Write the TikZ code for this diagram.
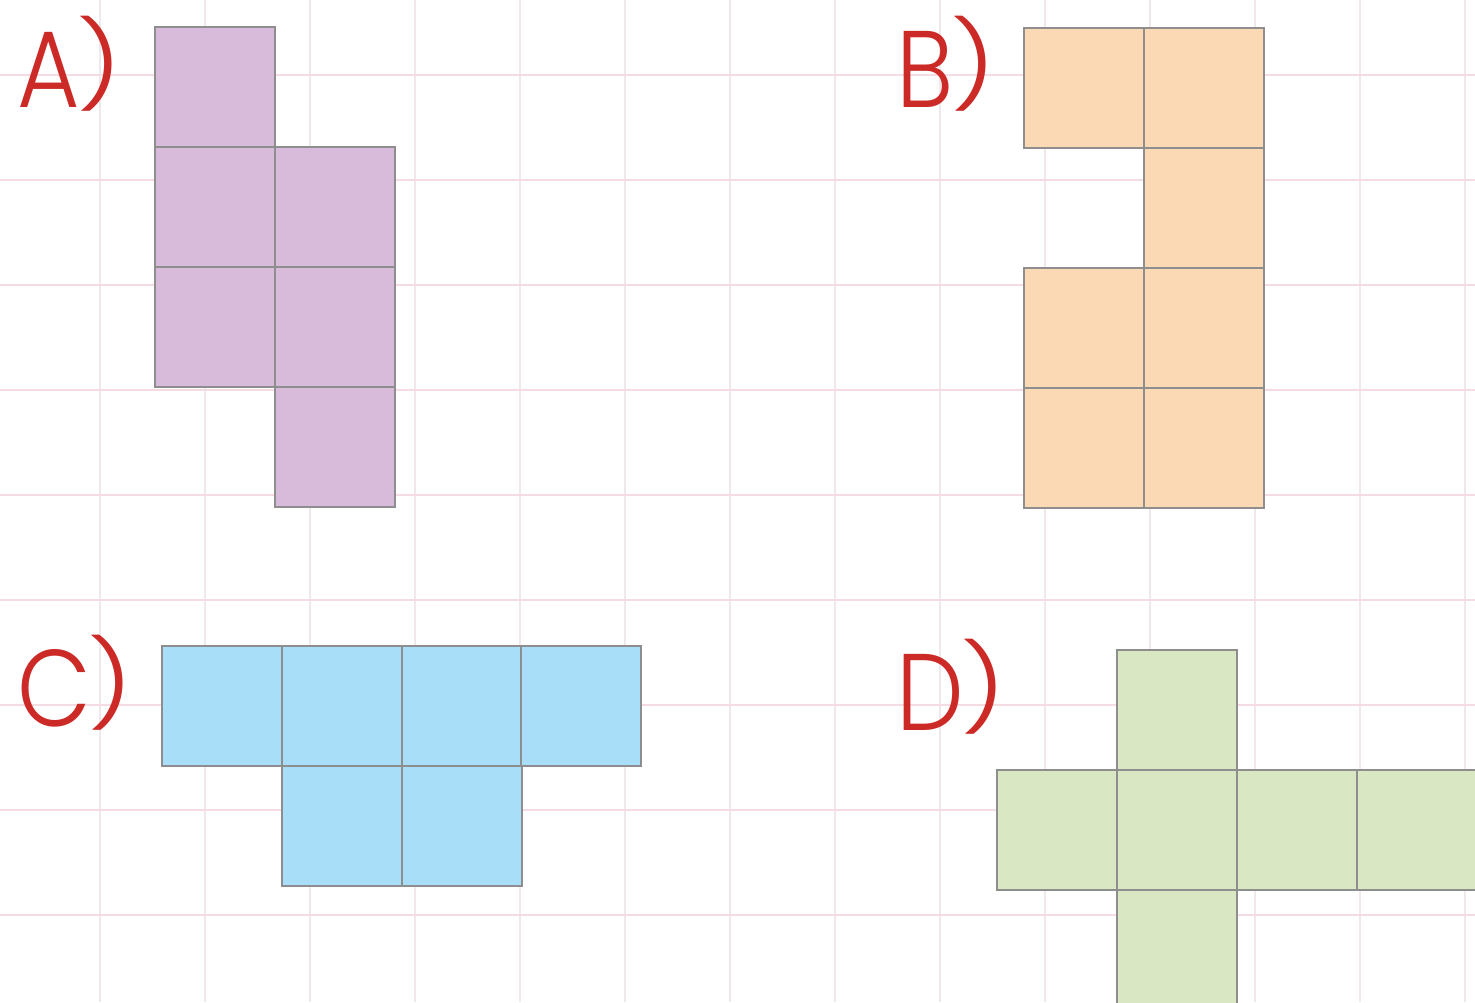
\documentclass[tikz,border=0pt]{standalone}
\usepackage{fontspec}
\usepackage{graphicx}
\usepackage{xcolor}
\usepackage{tikz}
\usetikzlibrary{positioning}
\newfontfamily\netfont{Poppins}[UprightFont=* Light]
\newcommand{\netmark}[1]{\scalebox{0.88}[1]{#1}\hspace{-2pt}\raisebox{6.5pt}{\scalebox{1}[0.78]{)}}}

\definecolor{gridh}{HTML}{F5DCE3}
\definecolor{gridv}{HTML}{F0E8EC}
\definecolor{cellline}{HTML}{8E8E8E}
\definecolor{labelred}{HTML}{CC2A26}
\definecolor{netA}{HTML}{D8BADB}
\definecolor{netB}{HTML}{FCD9B5}
\definecolor{netC}{HTML}{A8DEF8}
\definecolor{netD}{HTML}{D9E8C3}

\tikzset{
  cell/.style={draw=cellline, line width=1pt, minimum size=2.4cm, inner sep=0pt, outer sep=0pt},
  netlabel/.style={text=labelred, font=\netfont\fontsize{62}{68}\selectfont, inner sep=0pt, anchor=base west},
}

\begin{document}
\begin{tikzpicture}[x=0.02cm, y=-0.02cm]
\useasboundingbox (0,0) rectangle (1475,1002);
\fill[white] (0,0) rectangle (1475,1002);
% background grid
\foreach \gx in {100,205,...,1465}
  \draw[gridv, line width=1pt] (\gx,0) -- (\gx,1002);
\foreach \gy in {75,180,...,915}
  \draw[gridh, line width=1pt] (0,\gy) -- (1475,\gy);

% net A
\foreach \nm/\cx/\cy in {a1/215/87, a2/215/207, a3/335/207, a4/215/327, a5/335/327, a6/335/447}
  \node[cell, fill=netA] (\nm) at (\cx,\cy) {};
\node[netlabel] (labA) at (17,107) {\netmark{A}};

% net B
\foreach \nm/\cx/\cy in {b1/1084/88, b2/1204/88, b3/1204/208, b4/1084/328, b5/1204/328, b6/1084/448, b7/1204/448}
  \node[cell, fill=netB] (\nm) at (\cx,\cy) {};
\node[netlabel] (labB) at (896,107) {\netmark{B}};

% net C
\foreach \nm/\cx/\cy in {c1/222/706, c2/342/706, c3/462/706, c4/581/706, c5/342/826, c6/462/826}
  \node[cell, fill=netC] (\nm) at (\cx,\cy) {};
\node[netlabel] (labC) at (17,726) {\netmark{C}};

% net D
\foreach \nm/\cx/\cy in {d1/1177/710, d2/1057/830, d3/1177/830, d4/1297/830, d5/1417/830, d6/1177/950}
  \node[cell, fill=netD] (\nm) at (\cx,\cy) {};
\node[netlabel] (labD) at (896,730) {\netmark{D}};
\end{tikzpicture}
\end{document}
